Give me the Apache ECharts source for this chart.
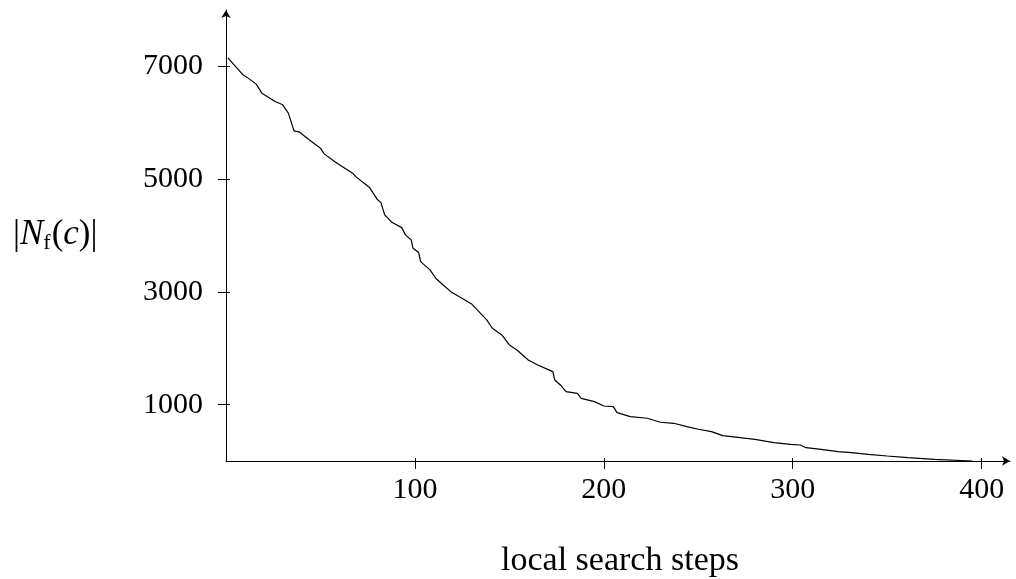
<!DOCTYPE html>
<html><head><meta charset="utf-8">
<script src="https://cdn.jsdelivr.net/npm/echarts@6/dist/echarts.min.js"></script>
<style>html,body{margin:0;padding:0;background:#fff}#c{width:1016px;height:579px}</style>
</head><body><div id="c"></div>
<script>
const steps = [1,9,11,16,19,26,30,33,36,39,44,50,52,58,67,69,76,80,82,84,88,93,95,98,99,102,103,108,111,115,119,124,130,133,138,141,146,150,154,160,165,173,174,177,180,186,188,195,200,205,207,214,223,230,237,244,250,257,263,280,290,299,304,307,315,324,331,340,350,361,375,395];
const counts = [7152,6850,6809,6685,6525,6376,6318,6170,5856,5833,5697,5549,5448,5301,5106,5035,4850,4644,4584,4366,4229,4140,4011,3922,3774,3697,3537,3390,3242,3123,3004,2905,2786,2680,2502,2355,2236,2059,1970,1792,1704,1585,1437,1349,1230,1200,1112,1053,976,964,857,786,758,687,669,609,563,520,449,385,325,296,284,236,207,166,148,118,89,59,30,0];
const xTicks = [100,200,300,400];
const yTicks = [1000,3000,5000,7000];
const xName = 'local search steps';

const serif = 'Liberation Serif';
const chart = echarts.init(document.getElementById('c'));
const pts = steps.map((s,i)=>[s,counts[i]]);
const axLine = {show:true, lineStyle:{color:'#000', width:1}};
const plain = v => String(v);
chart.setOption({
  animation:false,
  grid:{left:226, top:10, width:784, height:451, containLabel:false},
  xAxis:[
    {type:'value', min:0, max:415, axisLine:Object.assign({symbol:['none','arrow'], symbolSize:[7,8]},axLine),
     splitLine:{show:false},
     axisTick:{show:true, customValues:xTicks, length:8, inside:false, lineStyle:{color:'#000'}},
     axisLabel:{customValues:xTicks, formatter:plain, margin:14, fontFamily:serif, fontSize:30, color:'#000'}},
    {type:'value', min:0, max:415, position:'bottom', axisLine:{show:false}, splitLine:{show:false},
     axisTick:{show:true, customValues:xTicks, length:3, inside:true, lineStyle:{color:'#000'}},
     axisLabel:{show:false}}
  ],
  yAxis:[
    {type:'value', min:0, max:8000, axisLine:Object.assign({symbol:['none','arrow'], symbolSize:[7,8]},axLine),
     splitLine:{show:false},
     axisTick:{show:true, customValues:yTicks, length:8, inside:false, lineStyle:{color:'#000'}},
     axisLabel:{customValues:yTicks, formatter:plain, margin:23, fontFamily:serif, fontSize:30, color:'#000'}},
    {type:'value', min:0, max:8000, position:'left', axisLine:{show:false}, splitLine:{show:false},
     axisTick:{show:true, customValues:yTicks, length:4, inside:true, lineStyle:{color:'#000'}},
     axisLabel:{show:false}}
  ],
  series:[{type:'line', data:pts, showSymbol:false, lineStyle:{color:'#000', width:1.2}, silent:true}],
  graphic:[
    {type:'text', x:13, y:235, style:{
      text:'{a||}{n|N}{s|f}{a|(}{i|c}{a|)|}',
      verticalAlign:'middle', textVerticalAlign:'middle',
      rich:{
        a:{fontFamily:serif, fontSize:35, fill:'#000'},
        n:{fontFamily:serif, fontSize:35, fontStyle:'italic', fill:'#000'},
        s:{fontFamily:serif, fontSize:22, fill:'#000', verticalAlign:'bottom', padding:[16,1,0,0]},
        i:{fontFamily:serif, fontSize:35, fontStyle:'italic', fill:'#000'}
      }}},
    {type:'text', x:620, y:561, style:{text:xName, align:'center', verticalAlign:'middle', textAlign:'center', textVerticalAlign:'middle', fontFamily:serif, fontSize:34, fill:'#000'}}
  ]
});
</script></body></html>
